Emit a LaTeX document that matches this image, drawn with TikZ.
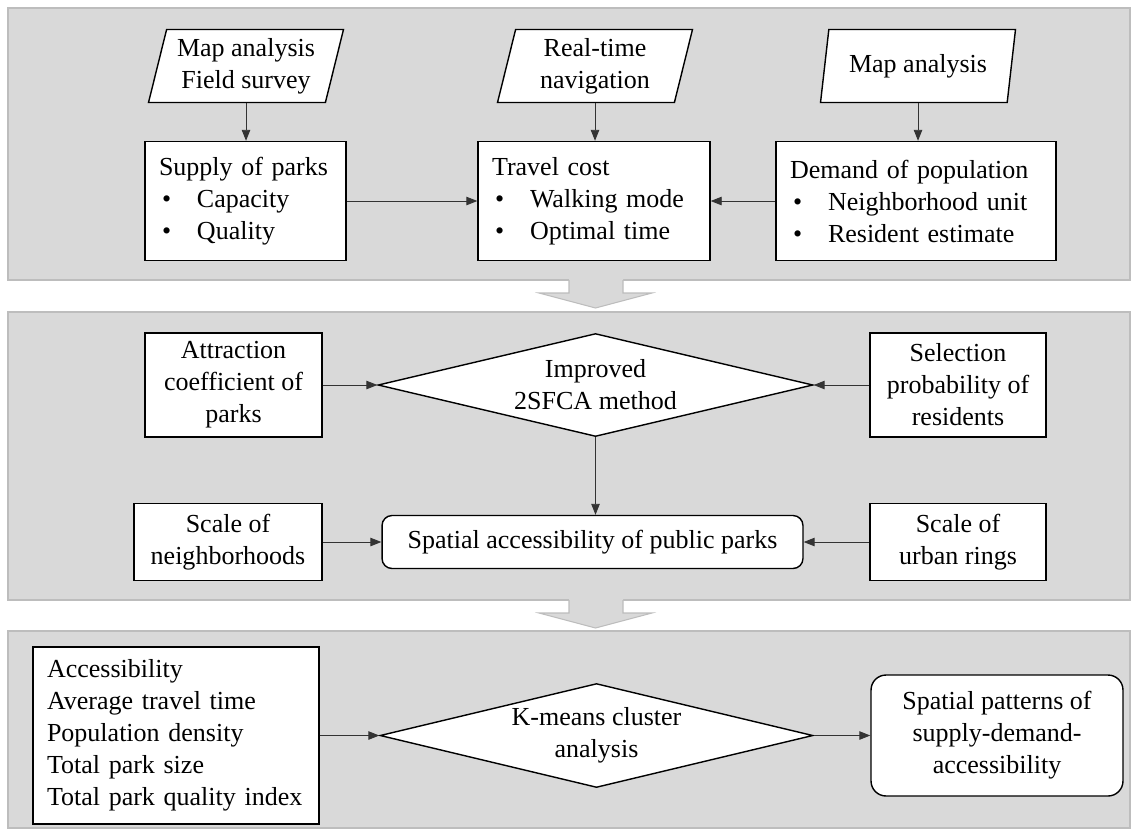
\documentclass[tikz,border=0pt]{standalone}
\usepackage{fontspec}
\setmainfont{Liberation Serif}
\usetikzlibrary{arrows.meta,shapes.geometric}

\definecolor{panelgray}{HTML}{D9D9D9}
\definecolor{edgegray}{HTML}{BDBDBD}

\newcommand{\itm}[1]{\hspace*{0.06cm}\makebox[0.7cm][l]{\textbullet}#1}

\begin{document}
\begin{tikzpicture}[x=0.02cm, y=-0.02cm,
  every node/.style={font=\fontsize{14.8}{18.2}\selectfont},
  panel/.style={fill=panelgray, draw=edgegray, line width=0.6pt},
  io/.style={trapezium, trapezium left angle=73, trapezium right angle=107,
    trapezium stretches body, draw, fill=white, line width=0.8pt, align=center,
    minimum height=1.46cm, minimum width=3.9cm, inner sep=1pt},
  box/.style={draw, fill=white, line width=0.8pt, align=center, inner sep=2pt},
  listbox/.style={box, align=left, inner xsep=0.28cm},
  roundbox/.style={box, rounded corners=#1},
  decide/.style={diamond, draw, fill=white, line width=0.8pt, align=center,
    aspect=4.2, inner sep=0pt},
  flow/.style={-{Triangle[length=0.22cm,width=0.17cm]}, line width=0.5pt, black!80}]

  \useasboundingbox (0,0) rectangle (1138,836);

  % panels
  \draw[panel] (8,8) rectangle (1130,280);
  \draw[panel] (8,312) rectangle (1130,600);
  \draw[panel] (8,631) rectangle (1130,828);

  % block arrows between panels
  \foreach \yb in {280,600} {
    \fill[panelgray] (569,\yb-1) -- (623,\yb-1) -- (623,\yb+13) -- (652,\yb+13)
      -- (595.5,\yb+28) -- (539,\yb+13) -- (569,\yb+13) -- cycle;
    \draw[edgegray, line width=0.6pt] (569,\yb) -- (569,\yb+13) -- (539,\yb+13)
      -- (595.5,\yb+28) -- (652,\yb+13) -- (623,\yb+13) -- (623,\yb);
  }

  % data
  \node[io] (mapA) at (246,66) {Map analysis\\Field survey};
  \node[io] (navi) at (595,66) {Real-time\\navigation};
  \node[io] (mapB) at (918,66) {Map analysis};

  \node[listbox, text width=3.46cm, minimum height=2.38cm] (supply) at (245.5,201)
    {Supply of parks\\\itm{Capacity}\\\itm{Quality}};
  \node[listbox, text width=4.08cm, minimum height=2.38cm] (travel) at (594,201)
    {Travel cost\\\itm{Walking mode}\\\itm{Optimal time}};
  \node[listbox, text width=5.04cm, minimum height=2.38cm] (demand) at (916,201)
    {Demand of population\\\itm{Neighborhood unit}\\\itm{Resident estimate}};

  \draw[flow] (mapA.south) -- (mapA.south |- supply.north);
  \draw[flow] (navi.south) -- (navi.south |- travel.north);
  \draw[flow] (mapB.south) -- (mapB.south |- demand.north);
  \draw[flow] (supply) -- (travel);
  \draw[flow] (demand) -- (travel);

  % method
  \node[box, minimum width=3.54cm, minimum height=2.08cm] (attract) at (233.5,385)
    {Attraction\\coefficient of\\parks};
  \node[decide, minimum width=8.7cm, minimum height=2.06cm] (sfca) at (595.5,385)
    {Improved\\2SFCA method};
  \node[box, minimum width=3.52cm, minimum height=2.08cm] (select) at (958,385)
    {Selection\\probability of\\residents};

  \node[box, minimum width=3.76cm, minimum height=1.54cm] (neigh) at (228,542)
    {Scale of\\neighborhoods};
  \node[roundbox=0.2cm, minimum width=8.42cm, minimum height=1.06cm] (access) at (592.5,542)
    {Spatial accessibility of public parks};
  \node[box, minimum width=3.52cm, minimum height=1.54cm] (rings) at (958,542)
    {Scale of\\urban rings};

  \draw[flow] (attract) -- (sfca);
  \draw[flow] (select) -- (sfca);
  \draw[flow] (sfca.south) -- (sfca.south |- access.north);
  \draw[flow] (neigh) -- (access);
  \draw[flow] (rings) -- (access);

  % clustering
  \node[listbox, text width=5.16cm, minimum height=3.54cm] (indic) at (176,735.5)
    {Accessibility\\Average travel time\\Population density\\Total park size\\Total park quality index};
  \node[decide, minimum width=8.66cm, minimum height=2.08cm] (kmeans) at (596.5,735.5)
    {K-means cluster\\analysis};
  \node[roundbox=0.3cm, minimum width=5.04cm, minimum height=2.42cm] (pattern) at (997,735.5)
    {Spatial patterns of\\supply-demand-\\accessibility};

  \draw[flow] (indic) -- (kmeans);
  \draw[flow] (kmeans) -- (pattern);
\end{tikzpicture}
\end{document}
